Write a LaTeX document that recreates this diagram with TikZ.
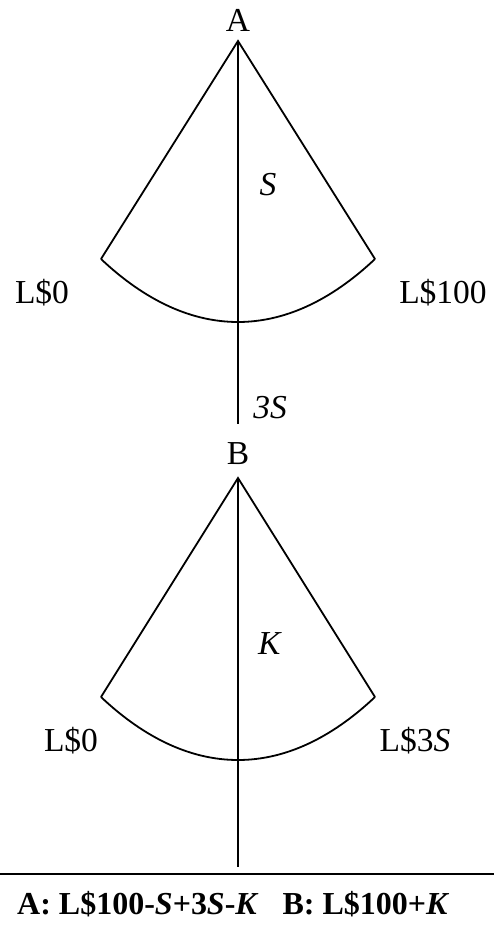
\documentclass[tikz,border=0pt]{standalone}
\usepackage{fontspec}
\setmainfont{Liberation Serif}
\begin{document}
\begin{tikzpicture}[x=1pt,y=-1pt,
  edge/.style={line width=1.8pt, line join=miter},
  lbl/.style={inner sep=0pt, anchor=base, font=\fontsize{33.5}{40}\selectfont}]
\useasboundingbox (0,0) rectangle (494,945);
% top tree
\coordinate (A) at (238,41);
\coordinate (AL) at (101,259);
\coordinate (AR) at (375,259);
\coordinate (Aend) at (238,424);
\draw[edge] (AL) -- (A) -- (AR);
\draw[edge] (AL) .. controls (190,343) and (286,343) .. (AR);
\draw[edge] (A) -- (Aend);
\node[lbl] (la) at (238,31) {A};
\node[lbl] (ls) at (268,195) {\textit{S}};
\node[lbl] (l0a) at (42,303) {L\$0};
\node[lbl] (l100) at (443,303) {L\$100};
\node[lbl] (l3s) at (270,418) {\textit{3S}};
% bottom tree
\coordinate (B) at (238,478);
\coordinate (BL) at (101,697);
\coordinate (BR) at (375,697);
\coordinate (Bend) at (238,867);
\draw[edge] (BL) -- (B) -- (BR);
\draw[edge] (BL) .. controls (190,781) and (286,781) .. (BR);
\draw[edge] (B) -- (Bend);
\node[lbl] (lb) at (238,464) {B};
\node[lbl] (lk) at (270,654) {\textit{K}};
\node[lbl] (l0b) at (71,751) {L\$0};
\node[lbl] (l3sb) at (415,751) {L\$3\textit{S}};
% rule and summary
\coordinate (RL) at (0,874);
\coordinate (RR) at (494,874);
\draw[line width=2.2pt] (RL) -- (RR);
\node[lbl, anchor=base west, font=\fontsize{32}{38}\selectfont] (sum) at (17,914) {\textbf{A: L\$100-\textit{S}+3\textit{S}-\textit{K}\ \ \ B: L\$100+\textit{K}}};
\end{tikzpicture}
\end{document}
